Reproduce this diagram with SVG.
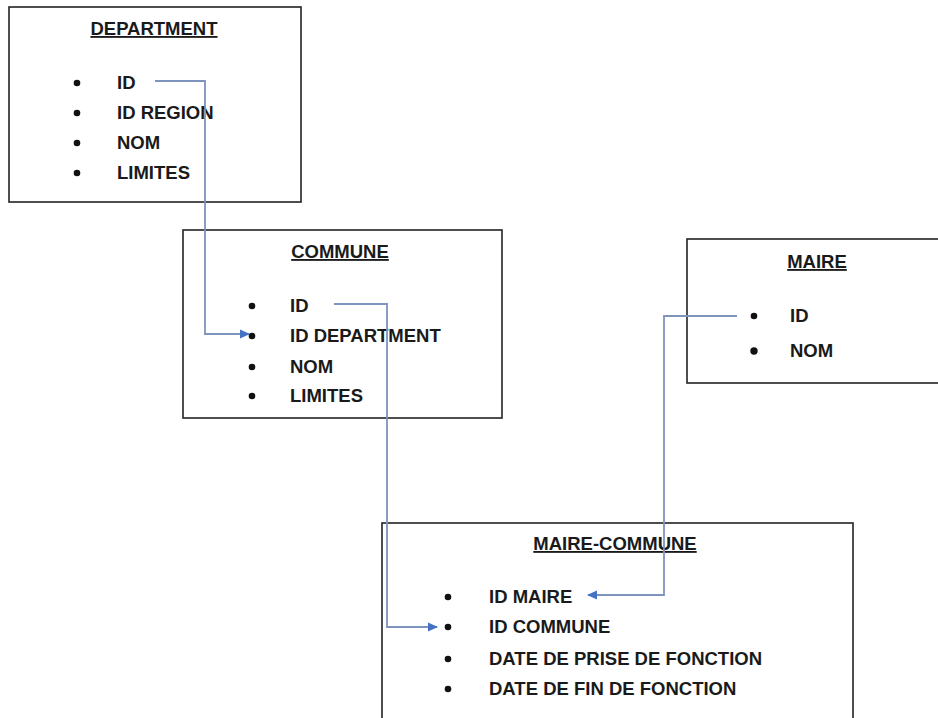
<svg xmlns="http://www.w3.org/2000/svg" width="938" height="718" viewBox="0 0 938 718">
<style>
.box{fill:#ffffff;stroke:#222222;stroke-width:1.6}
.t{font-family:"Liberation Sans",Arial,sans-serif;font-weight:bold;font-size:18.5px;fill:#1a1a1a}
.title{text-decoration:underline}
.b{fill:#111111}
.conn{fill:none;stroke:#7f93bf;stroke-width:1.8}
</style>
<defs>
<marker id="arr" markerWidth="10" markerHeight="10" refX="9" refY="5" orient="auto" markerUnits="userSpaceOnUse">
<path d="M0,0.5 L10,5 L0,9.5 Z" fill="#4472c4"/>
</marker>
</defs>
<rect width="938" height="718" fill="#ffffff"/>

<g id="department">
<rect class="box" x="9" y="7" width="292" height="195"/>
<text class="t title" x="154" y="35" text-anchor="middle">DEPARTMENT</text>
<circle class="b" cx="77" cy="83" r="3.3"/>
<circle class="b" cx="77" cy="113" r="3.3"/>
<circle class="b" cx="77" cy="143" r="3.3"/>
<circle class="b" cx="77" cy="173" r="3.3"/>
<text class="t" x="117" y="89">ID</text>
<text class="t" x="117" y="119">ID REGION</text>
<text class="t" x="117" y="149">NOM</text>
<text class="t" x="117" y="179">LIMITES</text>
</g>

<g id="commune">
<rect class="box" x="183" y="230" width="319" height="188"/>
<text class="t title" x="340" y="258" text-anchor="middle">COMMUNE</text>
<circle class="b" cx="252" cy="306" r="3.3"/>
<circle class="b" cx="252" cy="336" r="3.3"/>
<circle class="b" cx="252" cy="367" r="3.3"/>
<circle class="b" cx="252" cy="396" r="3.3"/>
<text class="t" x="290" y="312">ID</text>
<text class="t" x="290" y="342">ID DEPARTMENT</text>
<text class="t" x="290" y="373">NOM</text>
<text class="t" x="290" y="402">LIMITES</text>
</g>

<g id="maire">
<rect class="box" x="687" y="239" width="260" height="144"/>
<text class="t title" x="817" y="268" text-anchor="middle">MAIRE</text>
<circle class="b" cx="754" cy="316" r="3.3"/>
<circle class="b" cx="754" cy="351" r="3.7"/>
<text class="t" x="790" y="322">ID</text>
<text class="t" x="790" y="357">NOM</text>
</g>

<g id="maire-commune">
<rect class="box" x="382" y="523" width="471" height="210"/>
<text class="t title" x="615" y="550" text-anchor="middle">MAIRE-COMMUNE</text>
<circle class="b" cx="448" cy="597" r="3.3"/>
<circle class="b" cx="448" cy="627" r="3.3"/>
<circle class="b" cx="448" cy="659" r="3.3"/>
<circle class="b" cx="448" cy="689" r="3.3"/>
<text class="t" x="489" y="603">ID MAIRE</text>
<text class="t" x="489" y="633">ID COMMUNE</text>
<text class="t" x="489" y="665">DATE DE PRISE DE FONCTION</text>
<text class="t" x="489" y="695">DATE DE FIN DE FONCTION</text>
</g>

<g id="connectors">
<path class="conn" d="M155,81 H205 V334 H249" marker-end="url(#arr)"/>
<path class="conn" d="M334,304 H387 V627 H437" marker-end="url(#arr)"/>
<path class="conn" d="M737,316 H664 V595 H588" marker-end="url(#arr)"/>
</g>
</svg>
